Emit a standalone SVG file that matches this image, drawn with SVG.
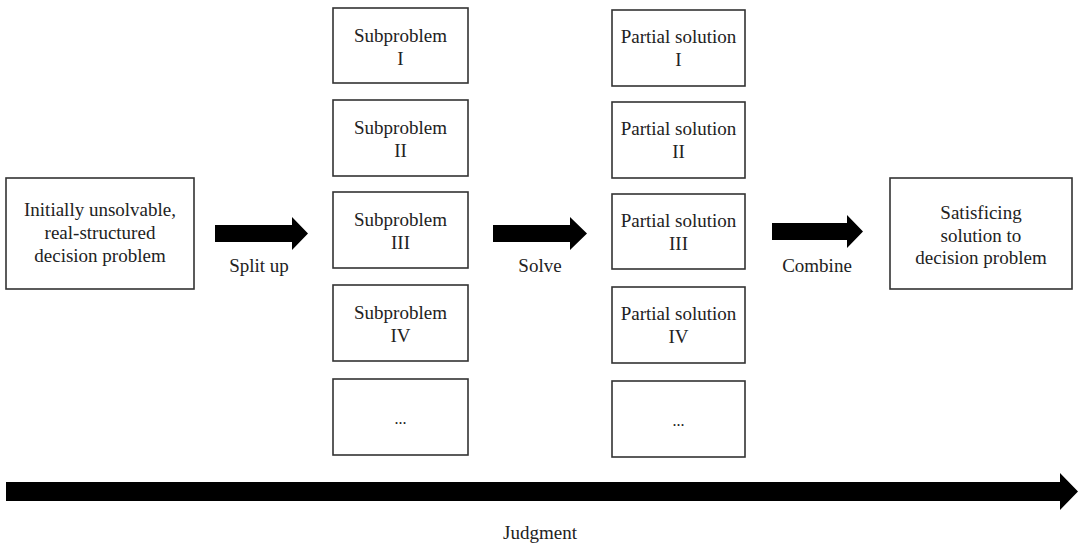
<svg xmlns="http://www.w3.org/2000/svg" width="1079" height="546" viewBox="0 0 1079 546">
<style>
.box{fill:#fff;stroke:#333;stroke-width:1.6}
.t{font-family:"Liberation Serif","Times New Roman",serif;font-size:19px;fill:#222;text-anchor:middle}
.arr{fill:#000}
</style>
<rect width="1079" height="546" fill="#fff"/>
<g id="start"><rect class="box" x="6" y="178" width="188" height="111"/>
<text class="t" x="100" y="216">Initially unsolvable,</text>
<text class="t" x="100" y="239">real-structured</text>
<text class="t" x="100" y="262">decision problem</text></g>
<g id="sub1"><rect class="box" x="333" y="8" width="135" height="75"/><text class="t" x="400.5" y="42">Subproblem</text><text class="t" x="400.5" y="65">I</text></g>
<g id="sub2"><rect class="box" x="333" y="100" width="135" height="76"/><text class="t" x="400.5" y="134">Subproblem</text><text class="t" x="400.5" y="157">II</text></g>
<g id="sub3"><rect class="box" x="333" y="192" width="135" height="76"/><text class="t" x="400.5" y="226">Subproblem</text><text class="t" x="400.5" y="249">III</text></g>
<g id="sub4"><rect class="box" x="333" y="285" width="135" height="76"/><text class="t" x="400.5" y="319">Subproblem</text><text class="t" x="400.5" y="342">IV</text></g>
<g id="sub5"><rect class="box" x="333" y="379" width="135" height="76"/><text class="t" x="400.5" y="424" style="font-size:16px">...</text></g>
<g id="part1"><rect class="box" x="612" y="10" width="133" height="76"/><text class="t" x="678.5" y="43">Partial solution</text><text class="t" x="678.5" y="66">I</text></g>
<g id="part2"><rect class="box" x="612" y="102" width="133" height="76"/><text class="t" x="678.5" y="135">Partial solution</text><text class="t" x="678.5" y="158">II</text></g>
<g id="part3"><rect class="box" x="612" y="194" width="133" height="75"/><text class="t" x="678.5" y="227">Partial solution</text><text class="t" x="678.5" y="250">III</text></g>
<g id="part4"><rect class="box" x="612" y="287" width="133" height="76"/><text class="t" x="678.5" y="320">Partial solution</text><text class="t" x="678.5" y="343">IV</text></g>
<g id="part5"><rect class="box" x="612" y="381" width="133" height="76"/><text class="t" x="678.5" y="426" style="font-size:16px">...</text></g>
<g id="end"><rect class="box" x="890" y="178" width="182" height="111"/>
<text class="t" x="981" y="219">Satisficing</text>
<text class="t" x="981" y="242">solution to</text>
<text class="t" x="981" y="264">decision problem</text></g>
<g id="connectors">
<polygon class="arr" points="215,225 292,225 292,217 308,233.5 292,250 292,242 215,242"/>
<text class="t" x="259" y="272">Split up</text>
<polygon class="arr" points="493,225 570,225 570,217 587,233.5 570,250 570,242 493,242"/>
<text class="t" x="540" y="272">Solve</text>
<polygon class="arr" points="772,223 847,223 847,215 863,231.5 847,248 847,240 772,240"/>
<text class="t" x="817" y="272">Combine</text>
<polygon class="arr" points="6,482 1060,482 1060,473 1078,491.5 1060,510 1060,501 6,501"/>
<text class="t" x="540" y="539">Judgment</text>
</g>
</svg>
